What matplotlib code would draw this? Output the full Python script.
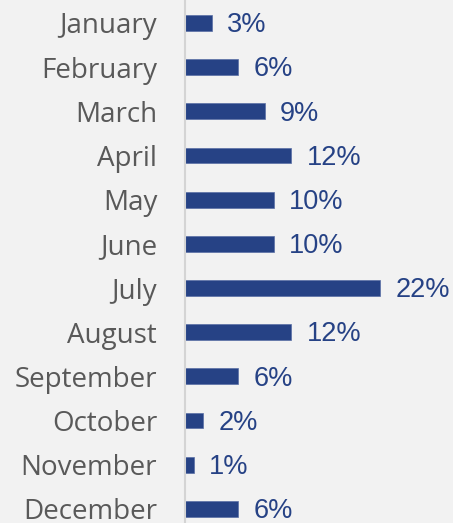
import matplotlib
matplotlib.use("Agg")
from matplotlib import pyplot as plt

months = ["January", "February", "March", "April", "May", "June", "July",
          "August", "September", "October", "November", "December"]
shares = [3, 6, 9, 12, 10, 10, 22, 12, 6, 2, 1, 6]

bar_color = "#264285"
label_color = "#595959"
bg = "#F2F2F2"

fig = plt.figure(figsize=(4.53, 5.23), dpi=100, facecolor=bg)
ax = fig.add_axes([185 / 453, 0, 268 / 453, 1], facecolor=bg)

y = list(range(len(months)))
ax.barh(y, shares, height=0.36, color=bar_color, edgecolor="#5a6fa5", linewidth=0.5)

for yi, v in zip(y, shares):
    ax.text(v + 1.75, yi + 0.05, f"{v}%", va="center", ha="left", fontsize=19.5,
            color=bar_color, family="Liberation Sans")

ax.set_xlim(0, 268 / 8.86)
ax.set_ylim(11.32, -0.52)

ax.set_yticks(y)
ax.set_yticklabels(months, fontsize=20, color=label_color, family="Open Sans")
ax.tick_params(axis="y", length=0, pad=20)
ax.set_xticks([])

for side in ["top", "right", "bottom"]:
    ax.spines[side].set_visible(False)
ax.spines["left"].set_color("#D4D4D4")
ax.spines["left"].set_linewidth(1.5)

fig.savefig("out.png", dpi=100, facecolor=bg)
